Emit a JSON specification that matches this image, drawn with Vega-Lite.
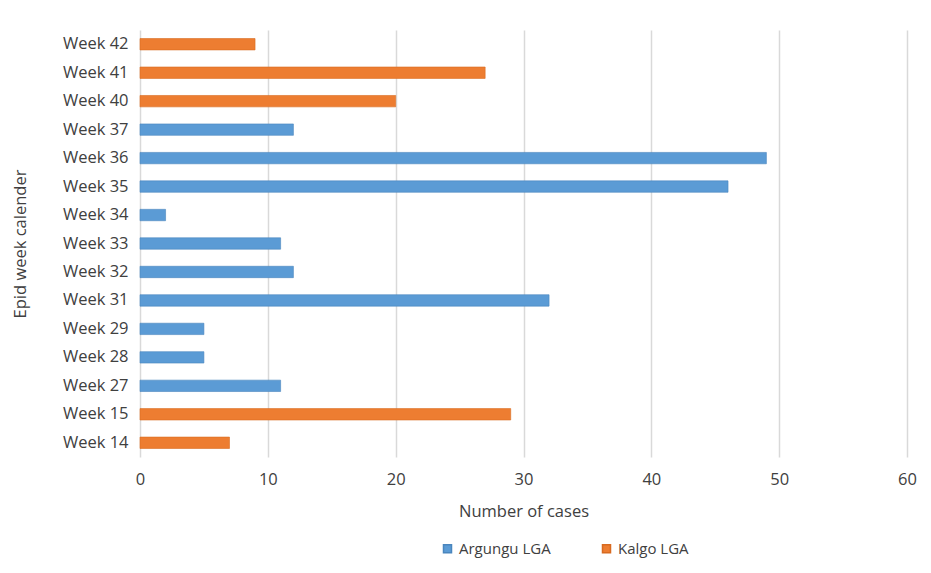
{
  "$schema": "https://vega.github.io/schema/vega-lite/v6.json",
  "autosize": {"type": "none"},
  "padding": {"left": 140, "top": 30, "right": 24, "bottom": 116},
  "width": 767,
  "height": 427,
  "background": "white",
  "config": {
    "font": "Open Sans",
    "view": {"stroke": null},
    "axis": {"labelColor": "#404040", "titleColor": "#404040", "labelFontSize": 16.5, "titleFontSize": 16.5, "titleFontWeight": "normal"}
  },
  "data": {
    "values": [
      {"week": "Week 42", "lga": "Kalgo LGA", "cases": 9},
      {"week": "Week 41", "lga": "Kalgo LGA", "cases": 27},
      {"week": "Week 40", "lga": "Kalgo LGA", "cases": 20},
      {"week": "Week 37", "lga": "Argungu LGA", "cases": 12},
      {"week": "Week 36", "lga": "Argungu LGA", "cases": 49},
      {"week": "Week 35", "lga": "Argungu LGA", "cases": 46},
      {"week": "Week 34", "lga": "Argungu LGA", "cases": 2},
      {"week": "Week 33", "lga": "Argungu LGA", "cases": 11},
      {"week": "Week 32", "lga": "Argungu LGA", "cases": 12},
      {"week": "Week 31", "lga": "Argungu LGA", "cases": 32},
      {"week": "Week 29", "lga": "Argungu LGA", "cases": 5},
      {"week": "Week 28", "lga": "Argungu LGA", "cases": 5},
      {"week": "Week 27", "lga": "Argungu LGA", "cases": 11},
      {"week": "Week 15", "lga": "Kalgo LGA", "cases": 29},
      {"week": "Week 14", "lga": "Kalgo LGA", "cases": 7}
    ]
  },
  "mark": {"type": "bar", "strokeWidth": 1, "strokeOpacity": 0.6},
  "encoding": {
    "y": {
      "field": "week", "type": "nominal", "sort": null,
      "scale": {"paddingInner": 0.6, "paddingOuter": 0.3},
      "axis": {"title": "Epid week calender", "domain": false, "ticks": false, "labelPadding": 12, "titlePadding": 34}
    },
    "x": {
      "field": "cases", "type": "quantitative",
      "scale": {"domain": [0, 60], "nice": false},
      "axis": {"title": "Number of cases", "values": [0, 10, 20, 30, 40, 50, 60], "domain": false, "ticks": false, "labelFlush": false, "labelPadding": 14, "titlePadding": 16, "gridColor": "#d9d9d9", "gridWidth": 1.5}
    },
    "color": {
      "field": "lga", "type": "nominal",
      "scale": {"domain": ["Argungu LGA", "Kalgo LGA"], "range": ["#5B9BD5", "#ED7D31"]},
      "legend": {"title": null, "orient": "none", "direction": "horizontal", "legendX": 300, "legendY": 511, "symbolType": "square", "symbolSize": 64, "labelFontSize": 15, "labelColor": "#404040", "columnPadding": 48, "labelOffset": 4}
    },
    "stroke": {
      "field": "lga", "type": "nominal",
      "scale": {"domain": ["Argungu LGA", "Kalgo LGA"], "range": ["#4a86be", "#d86a20"]},
      "legend": null
    }
  }
}
